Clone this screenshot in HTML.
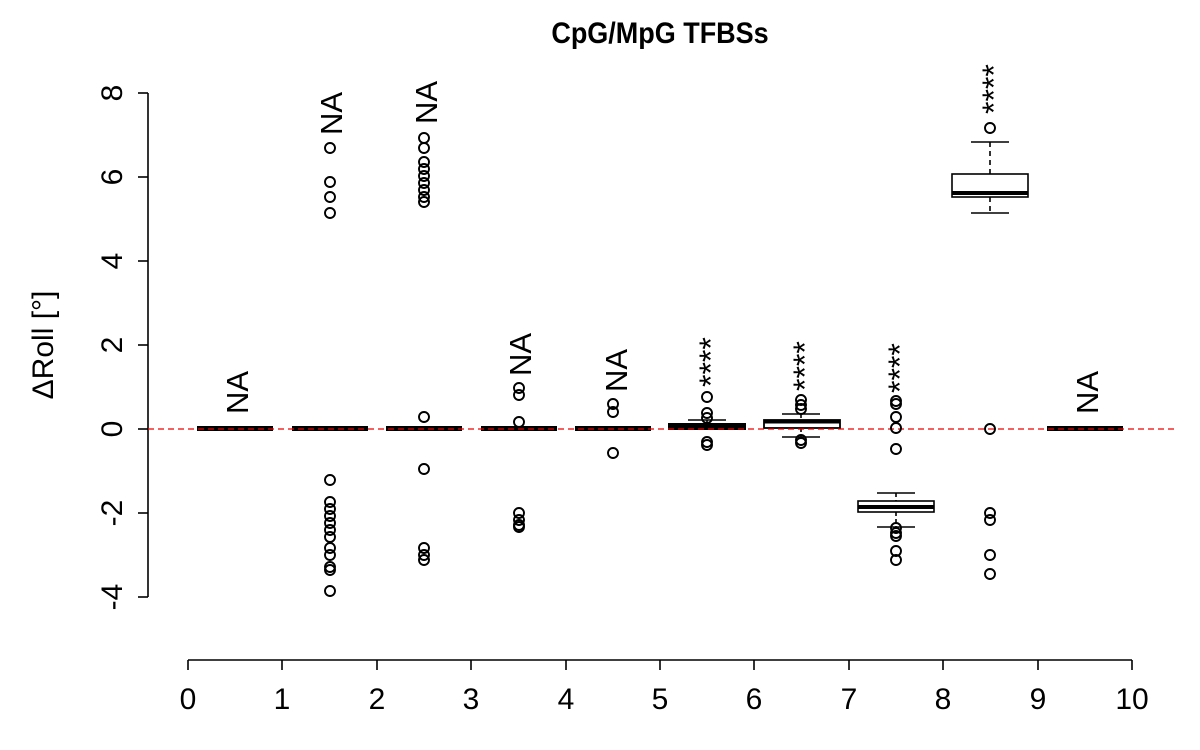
<!DOCTYPE html>
<html><head><meta charset="utf-8"><style>body{margin:0;background:#fff}svg{display:block}</style></head>
<body>
<svg width="1200" height="750" xmlns="http://www.w3.org/2000/svg" font-family="Liberation Sans, sans-serif">
<rect width="1200" height="750" fill="#fff"/>
<text x="660" y="43" font-size="30" font-weight="bold" text-anchor="middle" transform="translate(660,0) scale(0.9,1) translate(-660,0)">CpG/MpG TFBSs</text>
<g stroke="#000" stroke-width="1.6">
<line x1="148" y1="93" x2="148" y2="597"/>
<line x1="138" y1="93" x2="148" y2="93"/><line x1="138" y1="177" x2="148" y2="177"/>
<line x1="138" y1="261" x2="148" y2="261"/><line x1="138" y1="345" x2="148" y2="345"/>
<line x1="138" y1="429" x2="148" y2="429"/><line x1="138" y1="513" x2="148" y2="513"/>
<line x1="138" y1="597" x2="148" y2="597"/>
</g>
<g font-size="30" text-anchor="middle">
<text transform="translate(122,93) rotate(-90)">8</text>
<text transform="translate(122,177) rotate(-90)">6</text>
<text transform="translate(122,261) rotate(-90)">4</text>
<text transform="translate(122,345) rotate(-90)">2</text>
<text transform="translate(122,429) rotate(-90)">0</text>
<text transform="translate(122,513) rotate(-90)">-2</text>
<text transform="translate(122,597) rotate(-90)">-4</text>
<text transform="translate(53,345) rotate(-90)">ΔRoll [°]</text>
</g>
<g stroke="#000" stroke-width="1.6">
<line x1="188" y1="660" x2="1132" y2="660"/>
<line x1="188" y1="660" x2="188" y2="670"/><line x1="282" y1="660" x2="282" y2="670"/>
<line x1="377" y1="660" x2="377" y2="670"/><line x1="471" y1="660" x2="471" y2="670"/>
<line x1="566" y1="660" x2="566" y2="670"/><line x1="660" y1="660" x2="660" y2="670"/>
<line x1="754" y1="660" x2="754" y2="670"/><line x1="849" y1="660" x2="849" y2="670"/>
<line x1="943" y1="660" x2="943" y2="670"/><line x1="1038" y1="660" x2="1038" y2="670"/>
<line x1="1132" y1="660" x2="1132" y2="670"/>
</g>
<g font-size="30" text-anchor="middle">
<text x="188" y="709">0</text><text x="282" y="709">1</text><text x="377" y="709">2</text>
<text x="471" y="709">3</text><text x="566" y="709">4</text><text x="660" y="709">5</text>
<text x="754" y="709">6</text><text x="849" y="709">7</text><text x="943" y="709">8</text>
<text x="1038" y="709">9</text><text x="1132" y="709">10</text>
</g>
<g fill="#000">
<rect x="197" y="426" width="76" height="5"/>
<rect x="292" y="426" width="76" height="5"/>
<rect x="386" y="426" width="76" height="5"/>
<rect x="481" y="426" width="76" height="5"/>
<rect x="575" y="426" width="76" height="5"/>
<rect x="1047" y="426" width="76" height="5"/>
</g>
<g stroke="#000" stroke-width="1.6" fill="none">
<line x1="688" y1="420" x2="726" y2="420"/><line x1="707" y1="420" x2="707" y2="424"/>
<rect x="669" y="424" width="76" height="5" fill="#fff" stroke-width="2"/>
<line x1="669" y1="427" x2="745" y2="427" stroke-width="4"/>
<line x1="782" y1="414" x2="820" y2="414"/><line x1="801" y1="414" x2="801" y2="420" stroke-dasharray="4,3"/>
<line x1="782" y1="437" x2="820" y2="437"/><line x1="801" y1="428" x2="801" y2="437" stroke-dasharray="4,3"/>
<rect x="764" y="420" width="76" height="8" fill="#fff" stroke-width="1.8"/>
<line x1="764" y1="422" x2="840" y2="422" stroke-width="3"/>
<line x1="877" y1="493" x2="915" y2="493"/><line x1="896" y1="493" x2="896" y2="501" stroke-dasharray="4,3"/>
<line x1="877" y1="527" x2="915" y2="527"/><line x1="896" y1="512" x2="896" y2="527" stroke-dasharray="4,3"/>
<rect x="858" y="501" width="76" height="11" fill="#fff"/>
<line x1="858" y1="507" x2="934" y2="507" stroke-width="4"/>
<line x1="971" y1="142" x2="1009" y2="142"/><line x1="990" y1="142" x2="990" y2="174" stroke-dasharray="5,4"/>
<line x1="971" y1="213" x2="1009" y2="213"/><line x1="990" y1="197" x2="990" y2="213" stroke-dasharray="5,4"/>
<rect x="952" y="174" width="76" height="23" fill="#fff"/>
<line x1="952" y1="193" x2="1028" y2="193" stroke-width="4"/>
</g>
<line x1="148" y1="429" x2="1175" y2="429" stroke="#e00" stroke-width="1.3" stroke-dasharray="6,4"/>
<g stroke="#000" stroke-width="1.9" fill="none">
<circle cx="330" cy="148" r="5"/><circle cx="330" cy="182" r="5"/><circle cx="330" cy="197" r="5"/><circle cx="330" cy="213" r="5"/>
<circle cx="330" cy="480" r="5"/><circle cx="330" cy="502" r="5"/><circle cx="330" cy="509" r="5"/><circle cx="330" cy="516" r="5"/><circle cx="330" cy="523" r="5"/><circle cx="330" cy="530" r="5"/><circle cx="330" cy="537" r="5"/><circle cx="330" cy="548" r="5"/><circle cx="330" cy="555" r="5"/><circle cx="330" cy="567" r="5"/><circle cx="330" cy="570" r="5"/><circle cx="330" cy="591" r="5"/>
<circle cx="424" cy="138" r="5"/><circle cx="424" cy="148" r="5"/><circle cx="424" cy="162" r="5"/><circle cx="424" cy="169" r="5"/><circle cx="424" cy="176" r="5"/><circle cx="424" cy="183" r="5"/><circle cx="424" cy="190" r="5"/><circle cx="424" cy="197" r="5"/><circle cx="424" cy="202" r="5"/>
<circle cx="424" cy="417" r="5"/><circle cx="424" cy="469" r="5"/><circle cx="424" cy="548" r="5"/><circle cx="424" cy="555" r="5"/><circle cx="424" cy="560" r="5"/>
<circle cx="519" cy="388" r="5"/><circle cx="519" cy="395" r="5"/><circle cx="519" cy="422" r="5"/><circle cx="519" cy="513" r="5"/><circle cx="519" cy="520" r="5"/><circle cx="519" cy="525" r="5"/><circle cx="519" cy="527" r="5"/>
<circle cx="613" cy="404" r="5"/><circle cx="613" cy="412" r="5"/><circle cx="613" cy="453" r="5"/>
<circle cx="707" cy="397" r="5"/><circle cx="707" cy="413" r="5"/><circle cx="707" cy="418" r="5"/><circle cx="707" cy="442" r="5"/><circle cx="707" cy="445" r="5"/>
<circle cx="801" cy="400" r="5"/><circle cx="801" cy="405" r="5"/><circle cx="801" cy="409" r="5"/><circle cx="801" cy="440" r="5"/><circle cx="801" cy="443" r="5"/>
<circle cx="896" cy="401" r="5"/><circle cx="896" cy="404" r="5"/><circle cx="896" cy="417" r="5"/><circle cx="896" cy="428" r="5"/><circle cx="896" cy="449" r="5"/>
<circle cx="896" cy="528" r="5"/><circle cx="896" cy="533" r="5"/><circle cx="896" cy="536" r="5"/><circle cx="896" cy="551" r="5"/><circle cx="896" cy="560" r="5"/>
<circle cx="990" cy="128" r="5"/>
<circle cx="990" cy="429" r="5"/><circle cx="990" cy="513" r="5"/><circle cx="990" cy="520" r="5"/><circle cx="990" cy="555" r="5"/><circle cx="990" cy="574" r="5"/>
</g>
<g font-size="31">
<text transform="translate(248,414) rotate(-90)">NA</text>
<text transform="translate(342,135) rotate(-90)">NA</text>
<text transform="translate(437,124) rotate(-90)">NA</text>
<text transform="translate(531,376) rotate(-90)">NA</text>
<text transform="translate(627,392) rotate(-90)">NA</text>
<text transform="translate(1098,414) rotate(-90)">NA</text>
</g>
<g font-size="32">
<text transform="translate(722,387) rotate(-90)">****</text>
<text transform="translate(816,391) rotate(-90)">****</text>
<text transform="translate(911,393) rotate(-90)">****</text>
<text transform="translate(1005,114) rotate(-90)">****</text>
</g>
</svg>
</body></html>
